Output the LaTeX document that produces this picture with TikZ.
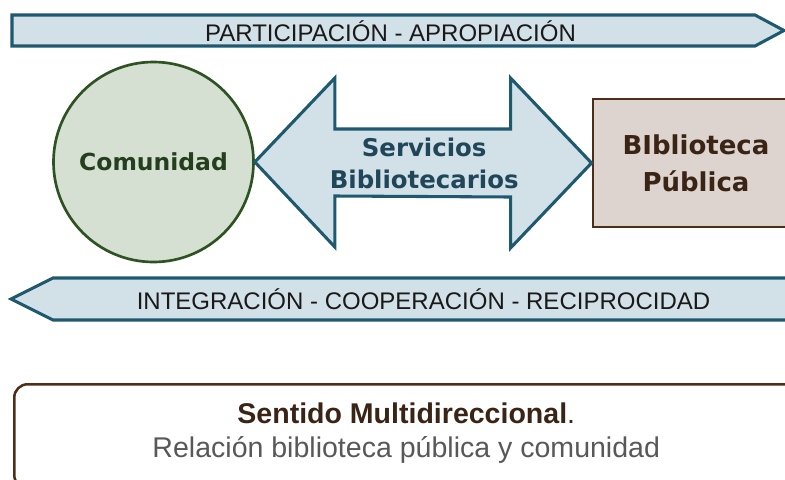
\documentclass[tikz,border=0pt]{standalone}
\usepackage{fontspec}
\setmainfont{Liberation Sans}
\newfontfamily\vfont{DejaVu Sans}
\usepackage{tikz}
\usetikzlibrary{calc,positioning}

\definecolor{bandfill}{HTML}{D2E0E7}
\definecolor{bandline}{HTML}{1E5970}
\definecolor{comfill}{HTML}{D6E0D2}
\definecolor{comline}{HTML}{2C5321}
\definecolor{comtext}{HTML}{233F1D}
\definecolor{bibfill}{HTML}{DDD4CF}
\definecolor{bibline}{HTML}{4E2E18}
\definecolor{bibtext}{HTML}{3A2416}
\definecolor{servtext}{HTML}{1F4659}
\definecolor{reltext}{HTML}{585858}

\begin{document}
\begin{tikzpicture}[x=0.75pt,y=-0.75pt,
    band/.style={draw=bandline,fill=bandfill,line width=2.3pt,line join=miter},
    bandtext/.style={font=\fontsize{18}{20}\selectfont,text=black!90}]
        \clip (0,0) rectangle (785,479);

        % participacion
        \draw[band] (12,15) -- (755,15) -- (784,30.5) -- (755,46) -- (12,46) -- cycle;
        \node[bandtext] (partic) at (390.5,31) {PARTICIPACIÓN - APROPIACIÓN};

        % comunidad
        \node[circle,draw=comline,fill=comfill,line width=2pt,minimum size=150pt,
              text=comtext,font=\vfont\bfseries\fontsize{17.6}{20}\selectfont]
              (com) at (153.5,162) {Comunidad};

        % biblioteca
        \node[draw=bibline,fill=bibfill,line width=2.2pt,minimum width=154.5pt,
              minimum height=96pt,align=center,text=bibtext,
              font=\vfont\bfseries\fontsize{19.5}{27.75}\selectfont]
              (bib) at (696,163) {BIblioteca\\Pública};

        % servicios
        \draw[band] (com.east) -- ++(80,-84) -- ++(0,51)
              -- ($(bib.west)+(-81,-34)$) -- ++(0,-51) -- (bib.west)
              -- ++(-81,85) -- ++(0,-51) -- ($(com.east)+(80,34)$) -- ++(0,51) -- cycle;
        \node[align=center,text=servtext,font=\vfont\bfseries\fontsize{18.3}{24}\selectfont]
              (serv) at ($(com.east)!0.5!(bib.west)+(1,1)$) {Servicios\\Bibliotecarios};

        % integracion
        \draw[band] (53,278) -- (800,278) -- (800,320) -- (53,320) -- (11,299) -- cycle;
        \node[bandtext] (integ) at (423.5,299) {INTEGRACIÓN - COOPERACIÓN - RECIPROCIDAD};

        % sentido
        \node[draw=bibline,fill=white,line width=1.9pt,rounded corners=10pt,
              minimum width=588pt,minimum height=78pt,anchor=north west,align=center,
              font=\fontsize{21.4}{25.5}\selectfont]
              (sent) at (13,383) {\textcolor{bibtext}{\textbf{Sentido Multidireccional}.}\\
              \textcolor{reltext}{Relación biblioteca pública y comunidad}\rule[-9pt]{0pt}{0pt}};
\end{tikzpicture}
\end{document}
